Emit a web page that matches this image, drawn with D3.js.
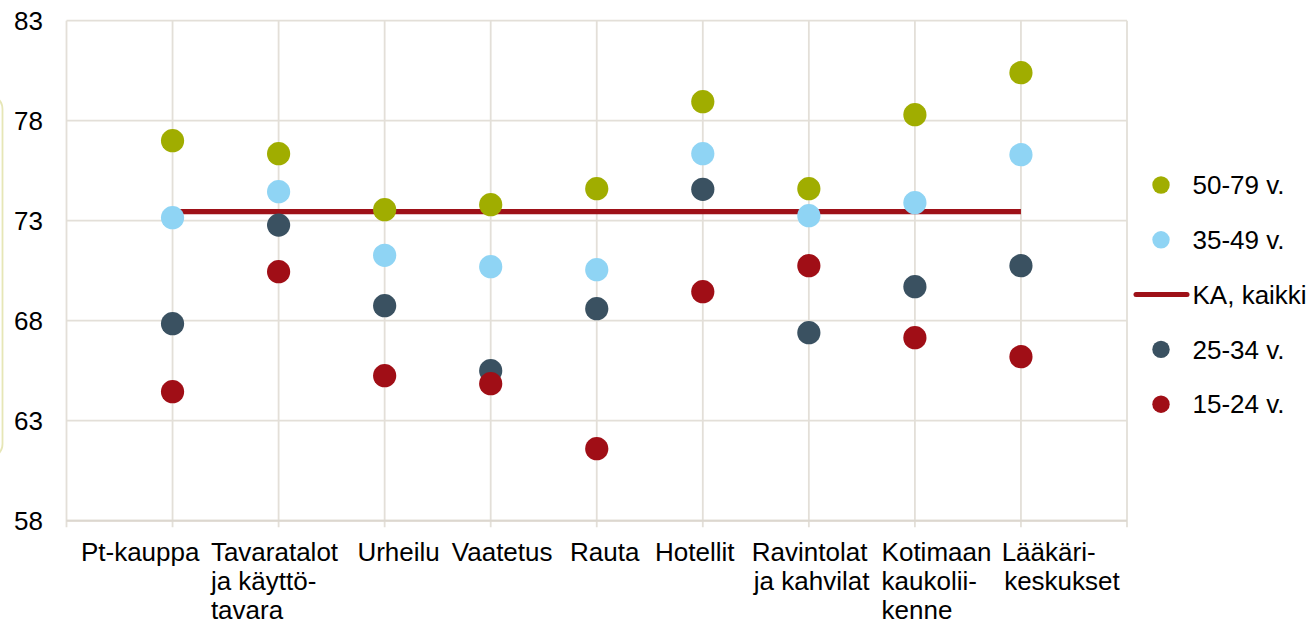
<!DOCTYPE html>
<html>
<head>
<meta charset="utf-8">
<script src="https://cdn.jsdelivr.net/npm/d3@7"></script>
<style>
  html, body { margin: 0; padding: 0; background: #ffffff; }
  svg { display: block; font-family: Arial, "Liberation Sans", sans-serif; }
</style>
</head>
<body>
<svg id="chart" width="1312" height="626"></svg>
<script>
// ---- data ----
const categories = [
  ["Pt-kauppa"],
  ["Tavaratalot", "ja käyttö-", "tavara"],
  ["Urheilu"],
  ["Vaatetus"],
  ["Rauta"],
  ["Hotellit"],
  ["Ravintolat", "ja kahvilat"],
  ["Kotimaan", "kaukolii-", "kenne"],
  ["Lääkäri-", "keskukset"]
];
const age50_79 = [77.0, 76.35, 73.55, 73.8, 74.6, 78.95, 74.6, 78.3, 80.4];
const age35_49 = [73.15, 74.45, 71.27, 70.7, 70.55, 76.35, 73.25, 73.9, 76.3];
const age25_34 = [67.85, 72.78, 68.75, 65.5, 68.6, 74.57, 67.4, 69.7, 70.75];
const age15_24 = [64.45, 70.45, 65.25, 64.85, 61.6, 69.45, 70.75, 67.15, 66.2];
const kaKaikki = [73.45, 73.45, 73.45, 73.45, 73.45, 73.45, 73.45, 73.45, 73.45];
const yTicks = [58, 63, 68, 73, 78, 83];
const seriesNames = ["50-79 v.", "35-49 v.", "KA, kaikki", "25-34 v.", "15-24 v."];

// ---- layout / style ----
const colors = {
  "50-79 v.": "#a0ad00",
  "35-49 v.": "#8fd4f4",
  "KA, kaikki": "#9e1118",
  "25-34 v.": "#3a5161",
  "15-24 v.": "#a00e16"
};
// label start offsets (relative to category position), labels are left aligned
const labelOffsets = [-91.6, -67.7, -27.2, -38.9, -26.7, -47.8, -57, -33.3, -19.3];
const lineOffsets2 = { 6: 2, 8: 2.5 };

const svg = d3.select("#chart");
const x = d3.scaleLinear().domain([0, 10]).range([66.5, 1127]);
const y = d3.scaleLinear().domain([58, 83]).range([520.7, 20.7]);
const fontSize = 26;
const gridColor = "#e3dfd8";

// left decorative rounded border (partially visible)
svg.append("rect")
  .attr("x", -200).attr("y", 95).attr("width", 202.5).attr("height", 363)
  .attr("rx", 14).attr("ry", 14)
  .attr("fill", "none").attr("stroke", "#e6e6b6").attr("stroke-width", 1.8);

const g = svg.append("g");

// horizontal gridlines
g.selectAll("line.hgrid").data(yTicks).join("line")
  .attr("class", "hgrid")
  .attr("x1", x(0)).attr("x2", x(10))
  .attr("y1", d => y(d)).attr("y2", d => y(d))
  .attr("stroke", gridColor).attr("stroke-width", 1.8);

// vertical gridlines (incl. axis lines)
const xGrid = d3.range(0, 11);
g.selectAll("line.vgrid").data(xGrid).join("line")
  .attr("class", "vgrid")
  .attr("x1", d => x(d)).attr("x2", d => x(d))
  .attr("y1", y(83)).attr("y2", y(58) + 6.5)
  .attr("stroke", gridColor).attr("stroke-width", 1.8);

// bottom axis slightly darker
g.append("line")
  .attr("x1", x(0)).attr("x2", x(10))
  .attr("y1", y(58)).attr("y2", y(58))
  .attr("stroke", "#dcd7cf").attr("stroke-width", 2);

// y tick labels
g.selectAll("text.ytick").data(yTicks).join("text")
  .attr("class", "ytick")
  .attr("x", 43).attr("y", d => y(d))
  .attr("dy", "0.35em")
  .attr("text-anchor", "end")
  .attr("font-size", fontSize)
  .attr("fill", "#000")
  .text(d => d);

// category labels
const catG = g.selectAll("text.cat").data(categories).join("text")
  .attr("class", "cat")
  .attr("font-size", fontSize)
  .attr("fill", "#000");
catG.each(function(lines, i) {
  const t = d3.select(this);
  lines.forEach((ln, j) => {
    let off = labelOffsets[i];
    if (j > 0 && lineOffsets2[i] !== undefined) off += lineOffsets2[i];
    t.append("tspan")
      .attr("x", x(i + 1) + off)
      .attr("y", 561 + j * 29)
      .text(ln);
  });
});

// average line
const lineGen = d3.line().x((d, i) => x(i + 1)).y(d => y(d));
g.append("path")
  .datum(kaKaikki)
  .attr("d", lineGen)
  .attr("fill", "none")
  .attr("stroke", colors["KA, kaikki"])
  .attr("stroke-width", 5.2);

// dots
const dotSeries = [
  ["50-79 v.", age50_79],
  ["35-49 v.", age35_49],
  ["25-34 v.", age25_34],
  ["15-24 v.", age15_24]
];
dotSeries.forEach(([name, vals]) => {
  g.append("g").selectAll("circle").data(vals).join("circle")
    .attr("cx", (d, i) => x(i + 1))
    .attr("cy", d => y(d))
    .attr("r", 11.6)
    .attr("fill", colors[name]);
});

// legend
const legend = svg.append("g");
const legY0 = 185, legStep = 54.8;
seriesNames.forEach((name, i) => {
  const ly = legY0 + i * legStep;
  if (name === "KA, kaikki") {
    legend.append("line")
      .attr("x1", 1136).attr("x2", 1187)
      .attr("y1", ly).attr("y2", ly)
      .attr("stroke", colors[name]).attr("stroke-width", 5)
      .attr("stroke-linecap", "round");
  } else {
    legend.append("circle")
      .attr("cx", 1161).attr("cy", ly).attr("r", 8.7)
      .attr("fill", colors[name]);
  }
  legend.append("text")
    .attr("x", 1192.5).attr("y", ly).attr("dy", "0.35em")
    .attr("font-size", fontSize).attr("fill", "#000")
    .text(name);
});
</script>
</body>
</html>
